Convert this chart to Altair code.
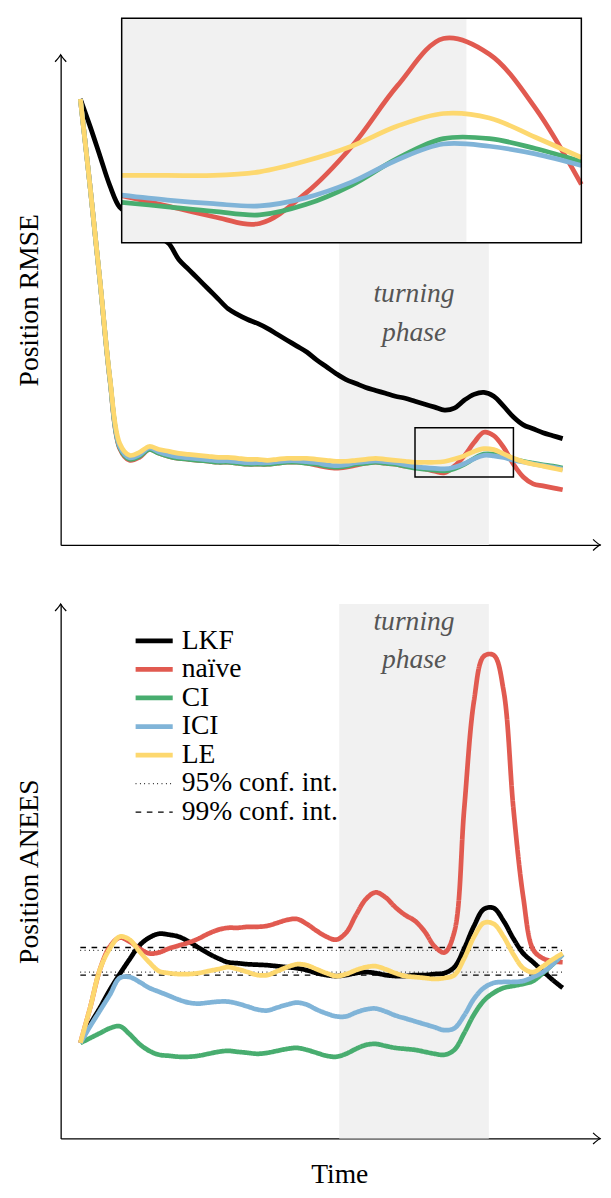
import json
import altair as alt
import pandas as pd

# ---------------- data ----------------
T = list(range(50))
METHODS = ["LKF", "naïve", "CI", "ICI", "LE"]
COLORS = ["#000000", "#e15a50", "#48ad6f", "#80b4d8", "#fdd86f"]

RMSE_LKF = [4.53, 4.25, 3.95, 3.65, 3.43, 3.36, 3.29, 3.21, 3.13, 3.06,
            2.90, 2.80, 2.70, 2.60, 2.50, 2.40, 2.34, 2.29, 2.25, 2.20,
            2.14, 2.08, 2.02, 1.96, 1.88, 1.81, 1.74, 1.68, 1.64, 1.60,
            1.57, 1.54, 1.51, 1.49, 1.46, 1.43, 1.40, 1.37, 1.39, 1.47,
            1.53, 1.55, 1.51, 1.41, 1.30, 1.22, 1.18, 1.14, 1.11, 1.08]
RMSE_NAIVE = [4.53, 3.63, 2.67, 1.68, 0.98, 0.86, 0.89, 0.97, 0.93, 0.90,
              0.88, 0.87, 0.86, 0.85, 0.84, 0.84, 0.83, 0.82, 0.82, 0.82,
              0.83, 0.84, 0.84, 0.83, 0.81, 0.79, 0.78, 0.79, 0.81, 0.83,
              0.84, 0.83, 0.82, 0.80, 0.795, 0.772, 0.748, 0.733, 0.800, 0.904,
              1.040, 1.145, 1.110, 0.990, 0.820, 0.69, 0.62, 0.60, 0.58, 0.56]
RMSE_CI = [4.53, 3.63, 2.67, 1.68, 0.99, 0.87, 0.90, 0.97, 0.93, 0.90,
           0.88, 0.87, 0.86, 0.85, 0.84, 0.84, 0.83, 0.82, 0.82, 0.82,
           0.83, 0.84, 0.84, 0.83, 0.82, 0.80, 0.79, 0.80, 0.82, 0.83,
           0.84, 0.83, 0.82, 0.80, 0.780, 0.770, 0.760, 0.752, 0.775, 0.818,
           0.878, 0.922, 0.922, 0.900, 0.871, 0.850, 0.832, 0.815, 0.80, 0.78]
RMSE_ICI = [4.53, 3.63, 2.67, 1.69, 1.00, 0.885, 0.915, 0.985, 0.945, 0.915,
            0.895, 0.885, 0.875, 0.865, 0.855, 0.855, 0.845, 0.835, 0.835, 0.835,
            0.845, 0.855, 0.855, 0.845, 0.835, 0.815, 0.805, 0.815, 0.835, 0.845,
            0.855, 0.845, 0.835, 0.815, 0.796, 0.785, 0.777, 0.772, 0.790, 0.825,
            0.875, 0.910, 0.905, 0.888, 0.862, 0.842, 0.824, 0.806, 0.79, 0.77]
RMSE_LE = [4.53, 3.63, 2.68, 1.70, 1.03, 0.91, 0.94, 1.00, 0.97, 0.95,
           0.93, 0.92, 0.91, 0.90, 0.89, 0.89, 0.88, 0.87, 0.87, 0.86,
           0.87, 0.88, 0.88, 0.88, 0.87, 0.86, 0.85, 0.85, 0.86, 0.87,
           0.88, 0.87, 0.86, 0.85, 0.84, 0.84, 0.84, 0.848, 0.872, 0.905,
           0.950, 0.978, 0.968, 0.925, 0.880, 0.845, 0.82, 0.80, 0.78, 0.76]

ANEES_LKF = [0.97, 1.16, 1.33, 1.51, 1.67, 1.82, 1.96, 2.04, 2.08, 2.07,
             2.05, 2.00, 1.94, 1.88, 1.83, 1.79, 1.78, 1.77, 1.765, 1.76,
             1.75, 1.74, 1.73, 1.71, 1.68, 1.66, 1.65, 1.66, 1.68, 1.69,
             1.68, 1.66, 1.65, 1.65, 1.66, 1.66, 1.67, 1.68, 1.74, 1.93,
             2.16, 2.33, 2.34, 2.21, 2.03, 1.88, 1.79, 1.70, 1.61, 1.53]
ANEES_NAIVE = [0.97, 1.33, 1.72, 1.95, 2.04, 2.00, 1.93, 1.88, 1.89, 1.93,
               1.96, 1.99, 2.03, 2.08, 2.12, 2.14, 2.14, 2.15, 2.15, 2.16,
               2.19, 2.22, 2.23, 2.18, 2.11, 2.05, 2.02, 2.09, 2.27, 2.43,
               2.50, 2.45, 2.35, 2.27, 2.21, 2.10, 1.95, 1.89, 2.10, 3.35,
               4.45, 4.90, 4.91, 4.55, 3.35, 2.45, 1.92, 1.83, 1.80, 1.79]
ANEES_CI = [0.97, 1.02, 1.07, 1.12, 1.14, 1.06, 0.96, 0.89, 0.85, 0.84,
            0.83, 0.83, 0.84, 0.86, 0.88, 0.89, 0.88, 0.87, 0.86, 0.87,
            0.89, 0.91, 0.92, 0.90, 0.87, 0.84, 0.83, 0.86, 0.91, 0.95,
            0.96, 0.94, 0.92, 0.91, 0.90, 0.88, 0.86, 0.85, 0.90, 1.07,
            1.26, 1.40, 1.48, 1.53, 1.55, 1.57, 1.60, 1.68, 1.77, 1.87]
ANEES_ICI = [0.97, 1.14, 1.30, 1.46, 1.63, 1.64, 1.59, 1.53, 1.49, 1.45,
             1.41, 1.38, 1.37, 1.38, 1.39, 1.39, 1.37, 1.34, 1.31, 1.30,
             1.33, 1.36, 1.38, 1.36, 1.31, 1.27, 1.24, 1.24, 1.28, 1.31,
             1.32, 1.29, 1.25, 1.22, 1.19, 1.16, 1.13, 1.10, 1.12, 1.25,
             1.42, 1.53, 1.58, 1.59, 1.59, 1.60, 1.64, 1.69, 1.77, 1.87]
ANEES_LE = [0.97, 1.33, 1.72, 1.93, 2.05, 2.02, 1.90, 1.79, 1.70, 1.68,
            1.67, 1.67, 1.68, 1.70, 1.72, 1.74, 1.72, 1.69, 1.66, 1.66,
            1.70, 1.74, 1.77, 1.76, 1.72, 1.68, 1.65, 1.67, 1.71, 1.74,
            1.75, 1.72, 1.68, 1.65, 1.64, 1.63, 1.62, 1.63, 1.66, 1.83,
            2.05, 2.19, 2.18, 2.05, 1.87, 1.73, 1.69, 1.75, 1.82, 1.88]

CONF_NAMES = ["95% conf. int.", "99% conf. int."]
CONF95 = [1.69, 1.91]
CONF99 = [1.66, 1.94]
PHASE = [26.3, 41.5]          # turning phase (time)
ZOOM_T = [34, 44]             # zoom window (time)
ZOOM_V = [0.69, 1.19]         # zoom window (RMSE)

X_DOMAIN = [-2, 52.8]
RMSE_MAX = 4.98
ANEES_MAX = 5.43

# ---------------- layout / style ----------------
W = 548
H_TOP = 498
H_BOT = 543
INSET_XR = [62, 529]
INSET_YR = [191, -37]
FONT = "Liberation Serif"
FS = 28
SHADE = "#f1f1f1"
LW = 4.8
THIN = 1.3
INTERP = "catmull-rom"

ARROW_RIGHT = "M -1 -0.8 Q -0.35 -0.2 0 0 Q -0.35 0.2 -1 0.8"
ARROW_UP = "M -0.8 1 Q -0.2 0.35 0 0 Q 0.2 0.35 0.8 1"
LEGEND_LINE = "M -1.3 0 H 1.3"


def long_df(names, series):
    rows = []
    for name, vals in zip(names, series):
        for t, v in zip(T, vals):
            rows.append({"series": name, "part": name, "t": t, "v": v})
    return pd.DataFrame(rows)


rmse_df = long_df(METHODS, [RMSE_LKF, RMSE_NAIVE, RMSE_CI, RMSE_ICI, RMSE_LE])
anees_df = long_df(METHODS, [ANEES_LKF, ANEES_NAIVE, ANEES_CI, ANEES_ICI, ANEES_LE])

win = rmse_df[(rmse_df.t >= ZOOM_T[0]) & (rmse_df.t <= ZOOM_T[1])]
inside = win.groupby("series")["v"].agg(lambda s: bool(((s >= ZOOM_V[0]) & (s <= ZOOM_V[1])).all()))
inset_df = win[win.series.map(inside)]

conf_rows = []
for name, bounds in zip(CONF_NAMES, [CONF95, CONF99]):
    for k, b in enumerate(bounds):
        for t in (T[0], T[-1]):
            conf_rows.append({"series": name, "part": f"{name}-{k}", "t": t, "v": b})
conf_df = pd.DataFrame(conf_rows)

phase_df = pd.DataFrame({"start": [PHASE[0]], "end": [PHASE[1]],
                         "mid": [(PHASE[0] + PHASE[1]) / 2],
                         "label": ["turning\nphase"]})


def xaxis(title=None):
    return alt.Axis(title=title, domain=True, domainColor="black", domainWidth=THIN,
                    ticks=False, labels=False, grid=False,
                    titleFont=FONT, titleFontSize=FS, titleFontWeight="normal",
                    titleColor="black", titleX=283, titleY=45,
                    titleBaseline="alphabetic", titleAlign="center")


def yaxis(title, h):
    return alt.Axis(title=title, domain=True, domainColor="black", domainWidth=THIN,
                    ticks=False, labels=False, grid=False,
                    titleFont=FONT, titleFontSize=FS, titleFontWeight="normal",
                    titleColor="black", titleX=-24, titleY=h / 2,
                    titleBaseline="alphabetic", titleAlign="center", titleAngle=270)


def base_layers(vmax, h, ytitle, xtitle, text_y):
    xs = alt.Scale(domain=X_DOMAIN, nice=False, zero=False)
    ys = alt.Scale(domain=[0, vmax], nice=False, zero=False)
    xa = xaxis(xtitle)
    ya = yaxis(ytitle, h)
    shade = alt.Chart(phase_df).mark_rect(color=SHADE).encode(
        x=alt.X("start:Q", scale=xs, axis=xa), x2="end:Q",
        y=alt.value(0), y2=alt.value(h))
    text = alt.Chart(phase_df).mark_text(
        font=FONT, fontSize=FS, fontStyle="italic", color="#555555",
        lineBreak="\n", lineHeight=39, baseline="middle").encode(
        x=alt.X("mid:Q", scale=xs, axis=xa), y=alt.value(text_y), text="label:N")
    arrows_r = pd.DataFrame({"t": [X_DOMAIN[1]], "v": [0.0]})
    arrows_u = pd.DataFrame({"t": [X_DOMAIN[0]], "v": [vmax]})
    ar = alt.Chart(arrows_r).mark_point(shape=ARROW_RIGHT, size=200, filled=False,
                                        stroke="black", strokeWidth=THIN, opacity=1).encode(
        x=alt.X("t:Q", scale=xs, axis=xa), y=alt.Y("v:Q", scale=ys, axis=ya))
    au = alt.Chart(arrows_u).mark_point(shape=ARROW_UP, size=200, filled=False,
                                        stroke="black", strokeWidth=THIN, opacity=1).encode(
        x=alt.X("t:Q", scale=xs, axis=xa), y=alt.Y("v:Q", scale=ys, axis=ya))
    return shade, text, ar, au, xs, ys, xa, ya


# ---------------- top panel ----------------
top_color = alt.Color("series:N", scale=alt.Scale(domain=METHODS, range=COLORS), legend=None)
shade_t, text_t, ar_t, au_t, xs_t, ys_t, xa_t, ya_t = base_layers(
    RMSE_MAX, H_TOP, "Position RMSE", None, 243.5)
lines_t = alt.Chart(rmse_df).mark_line(interpolate=INTERP, strokeWidth=LW).encode(
    x=alt.X("t:Q", scale=xs_t, axis=xa_t),
    y=alt.Y("v:Q", scale=ys_t, axis=ya_t),
    color=top_color, detail="part:N")
zoom_df = pd.DataFrame({"t0": [ZOOM_T[0]], "t1": [ZOOM_T[1]],
                        "v0": [ZOOM_V[0]], "v1": [ZOOM_V[1]]})
zoombox = alt.Chart(zoom_df).mark_rect(fillOpacity=0, stroke="black", strokeWidth=1.5).encode(
    x=alt.X("t0:Q", scale=xs_t, axis=xa_t), x2="t1:Q",
    y=alt.Y("v0:Q", scale=ys_t, axis=ya_t), y2="v1:Q")
main_top = alt.layer(shade_t, text_t, lines_t, zoombox, ar_t, au_t)

ixs = alt.Scale(domain=ZOOM_T, range=INSET_XR, nice=False, zero=False)
iys = alt.Scale(domain=ZOOM_V, range=INSET_YR, nice=False, zero=False)
inset_shade_df = pd.DataFrame({"t0": [max(PHASE[0], ZOOM_T[0])], "t1": [min(PHASE[1], ZOOM_T[1])],
                               "v0": [ZOOM_V[0]], "v1": [ZOOM_V[1]]})
inset_bg = alt.Chart(zoom_df).mark_rect(fill="white").encode(
    x=alt.X("t0:Q", scale=ixs, axis=None), x2="t1:Q",
    y=alt.Y("v0:Q", scale=iys, axis=None), y2="v1:Q")
inset_shade = alt.Chart(inset_shade_df).mark_rect(color=SHADE).encode(
    x=alt.X("t0:Q", scale=ixs, axis=None), x2="t1:Q",
    y=alt.Y("v0:Q", scale=iys, axis=None), y2="v1:Q")
inset_lines = alt.Chart(inset_df).mark_line(interpolate=INTERP, strokeWidth=LW).encode(
    x=alt.X("t:Q", scale=ixs, axis=None),
    y=alt.Y("v:Q", scale=iys, axis=None),
    color=top_color, detail="part:N")
inset_border = alt.Chart(zoom_df).mark_rect(fillOpacity=0, stroke="black", strokeWidth=1.5).encode(
    x=alt.X("t0:Q", scale=ixs, axis=None), x2="t1:Q",
    y=alt.Y("v0:Q", scale=iys, axis=None), y2="v1:Q")
inset = alt.layer(inset_bg, inset_shade, inset_lines, inset_border)

top = alt.layer(main_top, inset).resolve_scale(x="independent", y="independent").properties(
    width=W, height=H_TOP)

# ---------------- bottom panel ----------------
LEG_DOMAIN = METHODS + CONF_NAMES
width_expr = f"indexof({json.dumps(CONF_NAMES)}, datum.value) >= 0 ? {THIN} : {LW}"
leg = alt.Legend(title=None, orient="none", legendX=81, legendY=23.5,
                 symbolType=LEGEND_LINE, symbolSize=841,
                 symbolStrokeWidth=alt.ExprRef(expr=width_expr),
                 labelFont=FONT, labelFontSize=FS,
                 labelColor="black", labelOffset=14, labelLimit=400, rowPadding=1,
                 padding=0)
bot_color = alt.Color("series:N", scale=alt.Scale(domain=LEG_DOMAIN, range=COLORS + ["black", "black"]),
                      legend=leg)
bot_dash = alt.StrokeDash("series:N", scale=alt.Scale(
    domain=LEG_DOMAIN, range=[[1, 0]] * 5 + [[0.8, 3.6], [5.7, 5.7]]), legend=leg)

shade_b, text_b, ar_b, au_b, xs_b, ys_b, xa_b, ya_b = base_layers(
    ANEES_MAX, H_BOT, "Position ANEES", "Time", 18.5)
conf_b = alt.Chart(conf_df).mark_line(strokeWidth=THIN).encode(
    x=alt.X("t:Q", scale=xs_b, axis=xa_b),
    y=alt.Y("v:Q", scale=ys_b, axis=ya_b),
    color=bot_color, strokeDash=bot_dash, detail="part:N")
lines_b = alt.Chart(anees_df).mark_line(interpolate=INTERP, strokeWidth=LW).encode(
    x=alt.X("t:Q", scale=xs_b, axis=xa_b),
    y=alt.Y("v:Q", scale=ys_b, axis=ya_b),
    color=bot_color, strokeDash=bot_dash, detail="part:N")
bottom = alt.layer(shade_b, text_b, conf_b, lines_b, ar_b, au_b).properties(width=W, height=H_BOT)

chart = alt.vconcat(top, bottom, spacing=60, bounds="flush").resolve_scale(
    color="independent", strokeDash="independent"
).properties(
    padding={"left": 7.5, "top": 0, "right": 0, "bottom": 0}
).configure(background="white").configure_view(stroke=None)

chart.save("out.html", embed_options={"renderer": "svg", "actions": False})
